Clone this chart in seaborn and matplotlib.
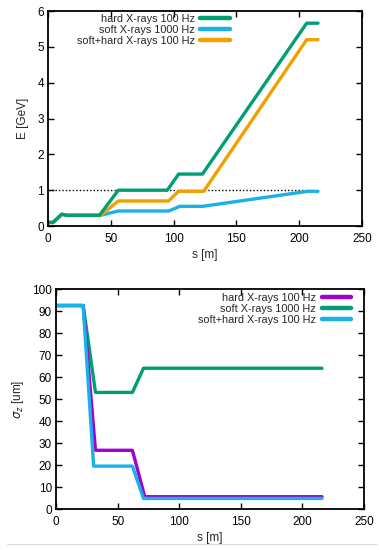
import matplotlib
matplotlib.use("Agg")
import matplotlib.pyplot as plt
from matplotlib.lines import Line2D
import numpy as np
import pandas as pd
import seaborn as sns

# --- energy profile along the linac (top panel) ---
s_hard_E = [0, 4, 11, 15, 41, 56, 95, 104, 123, 206, 215]
E_hard = [0.1, 0.1, 0.33, 0.3, 0.3, 1.0, 1.0, 1.45, 1.45, 5.66, 5.66]
s_soft_E = [0, 4, 11, 15, 42, 56, 96, 105, 123, 207, 215]
E_soft = [0.1, 0.1, 0.33, 0.3, 0.3, 0.42, 0.42, 0.55, 0.55, 0.97, 0.97]
s_mix_E = [0, 4, 11, 15, 42, 56, 96, 104, 124, 206, 215]
E_mix = [0.1, 0.1, 0.33, 0.3, 0.3, 0.7, 0.7, 0.97, 0.97, 5.2, 5.2]
s_ref = [0, 206]
E_ref = [1.0, 1.0]

# --- bunch length (bottom panel) ---
s_hard_sz = [0, 22, 32, 62, 72, 216]
sz_hard = [92.5, 92.5, 26.7, 26.7, 5.6, 5.6]
s_soft_sz = [0, 22, 32, 62, 71, 216]
sz_soft = [92.5, 92.5, 53, 53, 64, 64]
s_mix_sz = [0, 22, 30.5, 62, 71, 216]
sz_mix = [92.5, 92.5, 19.5, 19.5, 4.8, 4.8]

labels = ["hard X-rays 100 Hz", "soft X-rays 1000 Hz", "soft+hard X-rays 100 Hz"]

green = "#009e73"
cyan = "#1ab0e8"
orange = "#f2a000"
purple = "#a000d0"

sns.set_style("ticks")
plt.rcParams['font.family'] = ['Liberation Sans', 'DejaVu Sans']
plt.rcParams['mathtext.fontset'] = 'dejavusans'

fig = plt.figure(figsize=(3.79, 5.5), dpi=100)
ax1 = fig.add_axes([0.1266, 0.589, 0.8284, 0.391])
ax2 = fig.add_axes([0.148, 0.0745, 0.812, 0.40])

lw = 2.4
leg_fs = 7.8


def style_axes(ax):
    for sp in ax.spines.values():
        sp.set_color("black")
        sp.set_linewidth(1.3)
    ax.tick_params(direction="in", length=4, width=1.0, top=True, right=True,
                   labelsize=8.5, pad=3, colors="black")
    ax.tick_params(axis="x", pad=5)
    ax.set_xlim(0, 250)
    ax.set_xticks([0, 50, 100, 150, 200, 250])
    ax.set_xlabel("s [m]", fontsize=8.5, labelpad=3)
    ax.grid(False)


def add_legend(ax, anchor):
    h, l = ax.get_legend_handles_labels()
    order = [l.index(x) for x in labels]
    leg = ax.legend([h[i] for i in order], [l[i] for i in order], loc="upper right",
                    bbox_to_anchor=anchor, frameon=False, markerfirst=False,
                    fontsize=leg_fs, handlelength=2.75, handletextpad=0.5,
                    labelspacing=0.1, borderpad=0.15, borderaxespad=0)
    for ln in leg.get_lines():
        ln.set_linewidth(3.2)
    return leg


# top panel
sns.lineplot(x=s_ref, y=E_ref, ax=ax1, color="black", lw=1.0, linestyle=(0, (1, 1.5)))
sns.lineplot(x=s_soft_E, y=E_soft, ax=ax1, color=cyan, lw=lw, label=labels[1], sort=False)
sns.lineplot(x=s_mix_E, y=E_mix, ax=ax1, color=orange, lw=lw, label=labels[2], sort=False)
sns.lineplot(x=s_hard_E, y=E_hard, ax=ax1, color=green, lw=lw, label=labels[0], sort=False)
ax1.set_ylim(0, 6)
ax1.set_yticks(range(0, 7))
ax1.set_ylabel("E [GeV]", fontsize=8.5, labelpad=6)
style_axes(ax1)
add_legend(ax1, (0.585, 0.995))

# bottom panel
sns.lineplot(x=s_soft_sz, y=sz_soft, ax=ax2, color=green, lw=lw, label=labels[1], sort=False)
sns.lineplot(x=s_hard_sz, y=sz_hard, ax=ax2, color=purple, lw=lw, label=labels[0], sort=False)
sns.lineplot(x=s_mix_sz, y=sz_mix, ax=ax2, color=cyan, lw=lw, label=labels[2], sort=False)
ax2.set_ylim(0, 100)
ax2.set_yticks(range(0, 101, 10))
ax2.set_ylabel(r"$\sigma_z$ [um]", fontsize=8.5, labelpad=4)
style_axes(ax2)
add_legend(ax2, (0.965, 0.99))

# thin separator at the bottom of the figure
fig.add_artist(Line2D([7 / 379, 377 / 379], [1 - 544 / 550, 1 - 544 / 550],
                      color="#dddddd", lw=0.8, transform=fig.transFigure))

fig.savefig("out.png", dpi=100)
